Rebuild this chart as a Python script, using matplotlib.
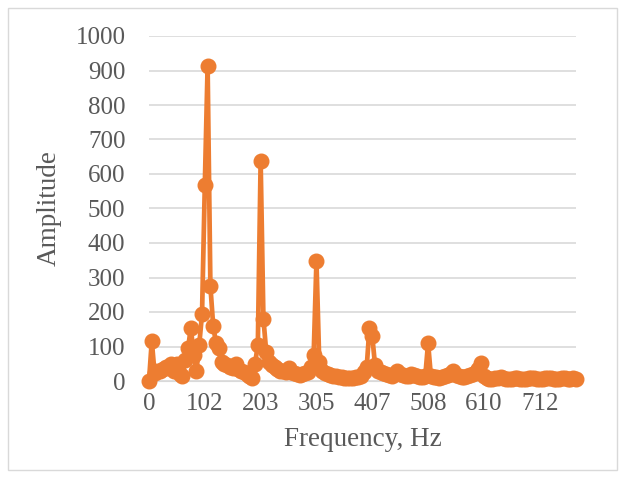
import matplotlib.pyplot as plt
from matplotlib.patches import Rectangle

# amplitude per frequency bin
amplitude = [
    0, 116, 22, 30, 28, 35, 42, 38, 48, 30,
    50, 20, 15, 60, 95, 155, 75, 30, 105, 194,
    567, 912, 275, 160, 110, 95, 55, 50, 45, 42,
    38, 48, 35, 30, 25, 20, 15, 10, 50, 105,
    637, 180, 85, 55, 45, 40, 35, 30, 28, 25,
    38, 25, 22, 20, 18, 20, 22, 25, 40, 75,
    348, 55, 30, 22, 20, 18, 15, 15, 12, 12,
    10, 10, 8, 10, 12, 12, 15, 25, 40, 155,
    130, 45, 30, 25, 22, 20, 18, 15, 20, 30,
    20, 18, 15, 15, 20, 18, 15, 12, 12, 15,
    110, 15, 12, 12, 10, 12, 15, 18, 20, 28,
    18, 15, 12, 12, 15, 18, 20, 25, 35, 52,
    15, 8, 5, 6, 8, 10, 12, 8, 6, 5,
    6, 8, 10, 7, 5, 6, 8, 10, 8, 6,
    5, 7, 9, 10, 8, 6, 5, 7, 9, 8,
    6, 5, 8, 7,
]
tick_pos = [0, 20, 40, 60, 80, 100, 120, 140]
tick_labels = ['0', '102', '203', '305', '407', '508', '610', '712']
y_ticks = [0, 100, 200, 300, 400, 500, 600, 700, 800, 900, 1000]

orange = '#ED7D31'
grid = '#D9D9D9'
txt = '#595959'
plt.rcParams['font.family'] = ['Liberation Serif', 'DejaVu Serif']

fig = plt.figure(figsize=(6.24, 4.8), dpi=100)
ax = fig.add_axes([149 / 624, 1 - 381 / 480, 427 / 624, 345 / 480])

x = list(range(len(amplitude)))
ax.plot(x, amplitude, color=orange, lw=3.4, marker='o', ms=10.5,
        mfc=orange, mec=orange, solid_joinstyle='round', zorder=3,
        clip_on=False)

ax.set_xlim(0, len(amplitude) - 1)
ax.set_ylim(0, 1000)
ax.set_yticks(y_ticks)
ax.set_xticks(tick_pos)
ax.set_xticklabels(tick_labels)
ax.grid(axis='y', color=grid, lw=1.2)
ax.set_axisbelow(True)
for s in ['top', 'right', 'left']:
    ax.spines[s].set_visible(False)
ax.spines['bottom'].set_color(grid)
ax.tick_params(length=0, labelsize=18, colors=txt)
ax.tick_params(axis='y', pad=17)
ax.tick_params(axis='x', pad=9)
ax.set_xlabel('Frequency, Hz', fontsize=19.5, color=txt, labelpad=8)
ax.set_ylabel('Amplitude', fontsize=19.5, color=txt, labelpad=10)

fig.patches.append(Rectangle((8 / 624, 10 / 480), 609 / 624, 462 / 480,
                             transform=fig.transFigure, fill=False,
                             edgecolor=grid, lw=1))

fig.savefig('out.png', dpi=100)
